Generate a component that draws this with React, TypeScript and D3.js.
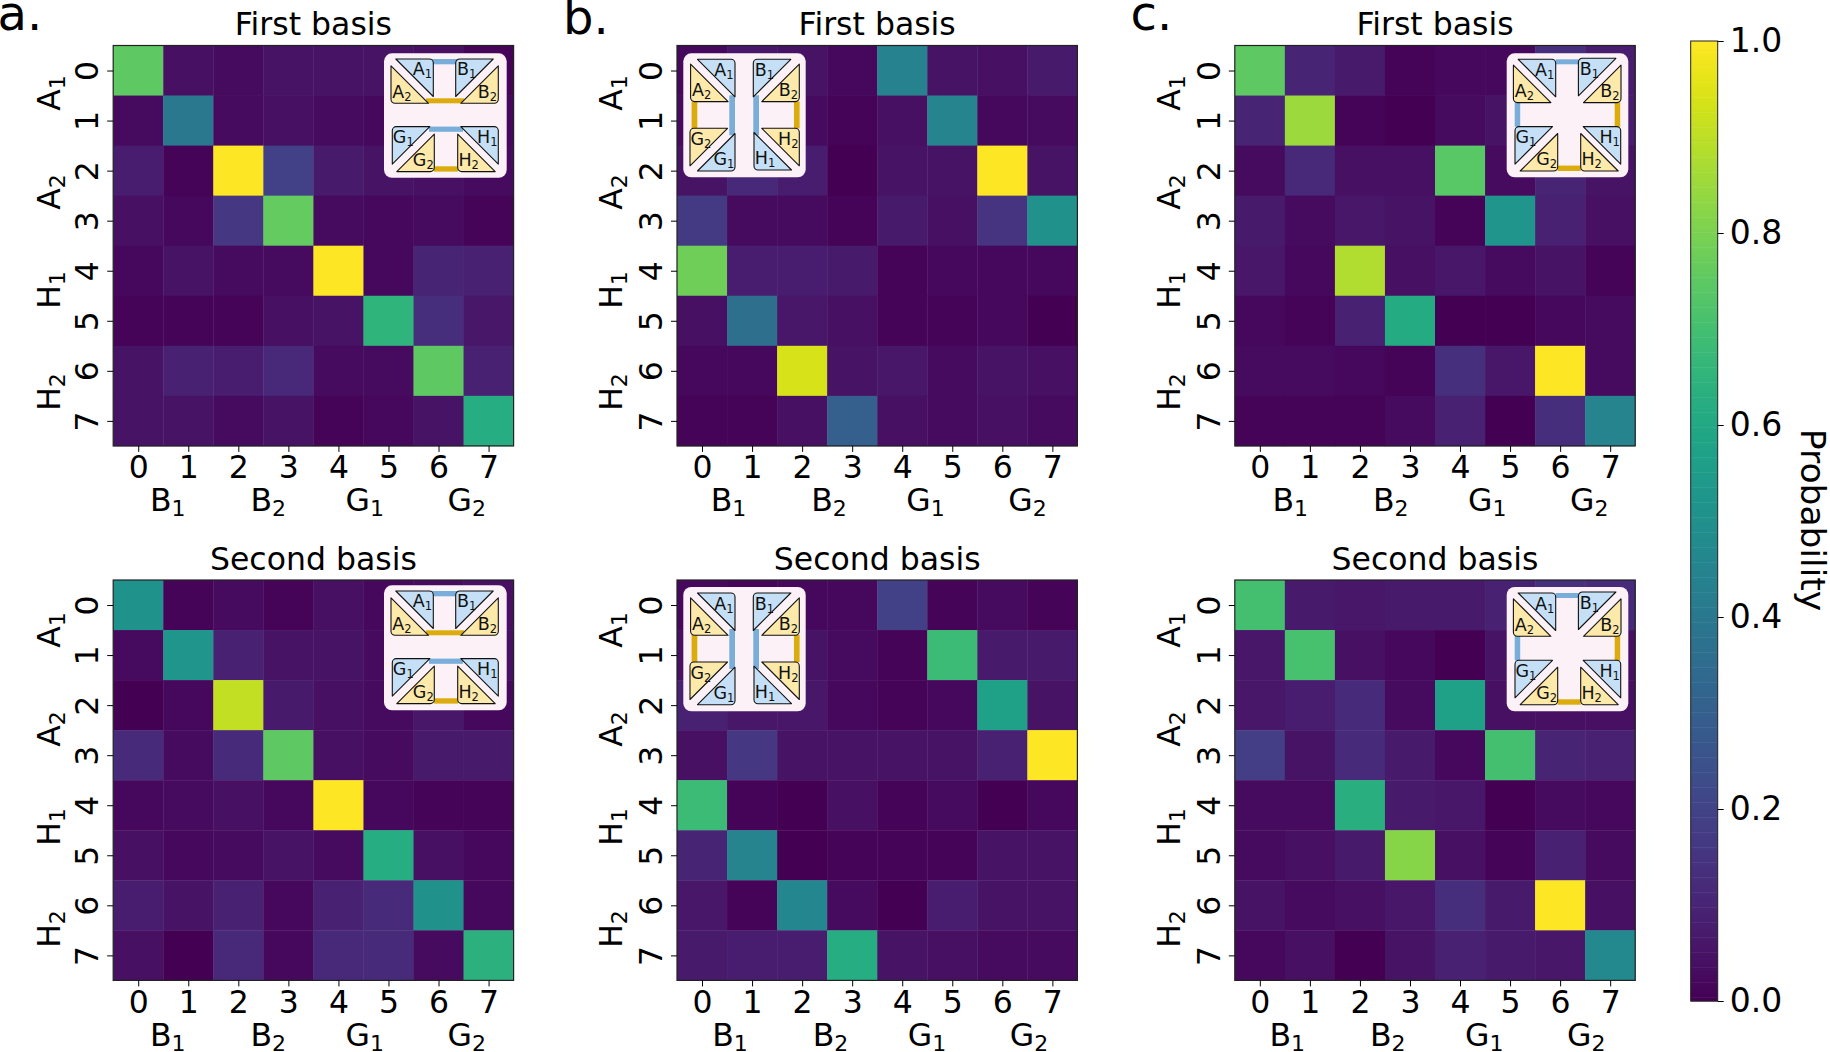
import React, { useEffect, useRef } from 'react';
import { select, scaleLinear, axisBottom, axisLeft, axisRight, interpolateViridis, path, range } from 'd3';

const WIDTH = 1830;
const HEIGHT = 1052;
const FONT = '"DejaVu Sans", sans-serif';

const ticks = [0, 1, 2, 3, 4, 5, 6, 7];
const colorTicks = [0, 0.2, 0.4, 0.6, 0.8, 1];

const xGroups = [['B', '1'], ['B', '2'], ['G', '1'], ['G', '2']];
const yGroups = [['A', '1'], ['A', '2'], ['H', '1'], ['H', '2']];

const aFirst = [
  [0.75, 0.04, 0.03, 0.05, 0.05, 0.05, 0.04, 0.01],
  [0.03, 0.40, 0.03, 0.04, 0.03, 0.02, 0.03, 0.02],
  [0.08, 0.01, 1.00, 0.19, 0.07, 0.05, 0.04, 0.03],
  [0.04, 0.02, 0.16, 0.76, 0.03, 0.02, 0.03, 0.01],
  [0.02, 0.05, 0.03, 0.03, 1.00, 0.02, 0.10, 0.09],
  [0.01, 0.01, 0.01, 0.04, 0.05, 0.65, 0.13, 0.06],
  [0.05, 0.09, 0.08, 0.11, 0.03, 0.03, 0.75, 0.09],
  [0.05, 0.05, 0.03, 0.05, 0.01, 0.02, 0.05, 0.62],
];
const aSecond = [
  [0.51, 0.01, 0.03, 0.01, 0.04, 0.02, 0.03, 0.04],
  [0.03, 0.52, 0.09, 0.05, 0.05, 0.03, 0.04, 0.04],
  [0.00, 0.02, 0.91, 0.07, 0.04, 0.03, 0.06, 0.02],
  [0.12, 0.03, 0.12, 0.75, 0.04, 0.03, 0.07, 0.07],
  [0.02, 0.03, 0.04, 0.02, 1.00, 0.02, 0.01, 0.01],
  [0.04, 0.02, 0.03, 0.05, 0.03, 0.62, 0.04, 0.02],
  [0.08, 0.05, 0.09, 0.02, 0.09, 0.12, 0.50, 0.02],
  [0.04, 0.00, 0.11, 0.02, 0.11, 0.12, 0.03, 0.64],
];
const bFirst = [
  [0.02, 0.06, 0.05, 0.02, 0.44, 0.05, 0.04, 0.07],
  [0.03, 0.05, 0.03, 0.01, 0.04, 0.45, 0.02, 0.03],
  [0.05, 0.11, 0.08, 0.00, 0.05, 0.05, 1.00, 0.05],
  [0.17, 0.03, 0.03, 0.01, 0.07, 0.04, 0.15, 0.50],
  [0.78, 0.08, 0.08, 0.07, 0.01, 0.02, 0.02, 0.02],
  [0.04, 0.36, 0.06, 0.04, 0.01, 0.01, 0.02, 0.00],
  [0.02, 0.02, 0.94, 0.05, 0.06, 0.03, 0.05, 0.04],
  [0.01, 0.01, 0.04, 0.30, 0.04, 0.03, 0.04, 0.03],
];
const bSecond = [
  [0.02, 0.01, 0.02, 0.02, 0.19, 0.01, 0.03, 0.01],
  [0.04, 0.04, 0.05, 0.03, 0.01, 0.68, 0.07, 0.07],
  [0.09, 0.06, 0.06, 0.02, 0.01, 0.02, 0.57, 0.05],
  [0.04, 0.16, 0.05, 0.05, 0.05, 0.05, 0.09, 1.00],
  [0.68, 0.01, 0.00, 0.04, 0.01, 0.03, 0.00, 0.02],
  [0.10, 0.45, 0.00, 0.01, 0.01, 0.01, 0.05, 0.05],
  [0.06, 0.01, 0.46, 0.03, 0.00, 0.08, 0.05, 0.05],
  [0.07, 0.08, 0.08, 0.62, 0.05, 0.04, 0.03, 0.03],
];
const cFirst = [
  [0.75, 0.10, 0.07, 0.01, 0.02, 0.02, 0.14, 0.08],
  [0.10, 0.85, 0.01, 0.00, 0.03, 0.05, 0.03, 0.08],
  [0.03, 0.11, 0.04, 0.04, 0.74, 0.03, 0.10, 0.05],
  [0.07, 0.03, 0.06, 0.05, 0.01, 0.52, 0.09, 0.04],
  [0.06, 0.02, 0.88, 0.04, 0.06, 0.03, 0.05, 0.01],
  [0.02, 0.01, 0.09, 0.61, 0.00, 0.00, 0.02, 0.03],
  [0.03, 0.03, 0.02, 0.01, 0.14, 0.06, 1.00, 0.03],
  [0.01, 0.01, 0.01, 0.03, 0.09, 0.00, 0.13, 0.45],
];
const cSecond = [
  [0.70, 0.07, 0.06, 0.07, 0.07, 0.09, 0.14, 0.12],
  [0.06, 0.71, 0.04, 0.02, 0.00, 0.05, 0.04, 0.04],
  [0.06, 0.08, 0.12, 0.03, 0.57, 0.04, 0.04, 0.04],
  [0.18, 0.05, 0.12, 0.07, 0.02, 0.70, 0.10, 0.09],
  [0.03, 0.03, 0.63, 0.07, 0.06, 0.00, 0.03, 0.02],
  [0.03, 0.04, 0.07, 0.82, 0.04, 0.01, 0.09, 0.03],
  [0.05, 0.03, 0.04, 0.06, 0.13, 0.07, 1.00, 0.04],
  [0.02, 0.04, 0.00, 0.05, 0.09, 0.07, 0.06, 0.47],
];

// inset graphs: [name, sub, corner x, corner y, dir x, dir y], bars are [color, x0, y0, x1, y1]
const BLUE = '#c5e0f6';
const YELLOW = '#fde9a9';
const BLUE_BAR = '#78aed9';
const YELLOW_BAR = '#dcab0c';

const insetA = {
  tris: [
    ['A', '1', 49.3, 5.7, -1, 1], ['A', '2', 7, 50, 1, -1], ['B', '1', 71.7, 5.7, 1, 1], ['B', '2', 114.3, 50, -1, -1],
    ['G', '1', 8.3, 73.3, 1, 1], ['G', '2', 50.3, 118.3, -1, -1], ['H', '1', 114.3, 73.3, -1, 1], ['H', '2', 73.7, 118.3, 1, -1],
  ],
  bars: [
    [BLUE_BAR, 48, 5.7, 73, 11], [YELLOW_BAR, 42, 45, 80, 50], [BLUE_BAR, 45, 73.3, 79, 78.5], [YELLOW_BAR, 50, 113, 74, 118.3],
  ],
};
const insetB = {
  tris: [
    ['A', '1', 51.7, 6, -1, 1], ['A', '2', 7.3, 48.3, 1, -1], ['B', '1', 70, 6, 1, 1], ['B', '2', 116, 48.3, -1, -1],
    ['G', '2', 6.7, 75, 1, 1], ['G', '1', 51.7, 117.7, -1, -1], ['H', '2', 116, 75, -1, 1], ['H', '1', 70.7, 116.7, 1, -1],
  ],
  bars: [
    [YELLOW_BAR, 8.3, 48, 14, 75], [BLUE_BAR, 46, 42, 51.7, 82], [BLUE_BAR, 70, 42, 75.7, 82], [YELLOW_BAR, 110.7, 48, 116.3, 75],
  ],
};
const insetC = {
  tris: [
    ['A', '1', 49, 6, -1, 1], ['A', '2', 6.7, 49.3, 1, -1], ['B', '1', 71.7, 5, 1, 1], ['B', '2', 114.3, 49.3, -1, -1],
    ['G', '1', 8.3, 73.3, 1, 1], ['G', '2', 51, 117.7, -1, -1], ['H', '1', 114, 73.3, -1, 1], ['H', '2', 74, 117.7, 1, -1],
  ],
  bars: [
    [BLUE_BAR, 49, 6, 72, 11], [YELLOW_BAR, 108, 49, 113.5, 73.5], [YELLOW_BAR, 51, 112.3, 74, 117.7], [BLUE_BAR, 8, 49, 13.5, 73.5],
  ],
};

const AXIS_SIZE = 400.4;
const LEG = 37.5;
const LABEL_SIZE = 31.5;
const SUB_SIZE = 22;

const panels = [
  { title: 'First basis', data: aFirst, x: 113.2, y: 45.5, inset: insetA, ix: 384, iy: 53.3, ih: 124.5, iw: 122.7, xoff: 0, yoff: 0, ylab: -53 },
  { title: 'Second basis', data: aSecond, x: 113.2, y: 580, inset: insetA, ix: 384, iy: 585.3, ih: 125, iw: 122.7, xoff: 0, yoff: 2.5, ylab: -53 },
  { title: 'First basis', data: bFirst, x: 677, y: 45.5, inset: insetB, ix: 683.3, iy: 53.3, ih: 124, iw: 122.4, xoff: -3, yoff: 0, ylab: -55 },
  { title: 'Second basis', data: bSecond, x: 677, y: 580, inset: insetB, ix: 683.3, iy: 587, ih: 124.3, iw: 122.4, xoff: -1.5, yoff: 2.5, ylab: -55 },
  { title: 'First basis', data: cFirst, x: 1234.8, y: 45.5, inset: insetC, ix: 1506.7, iy: 53.3, ih: 124, iw: 121.6, xoff: 1, yoff: 0, ylab: -55 },
  { title: 'Second basis', data: cSecond, x: 1234.8, y: 580, inset: insetC, ix: 1506.7, iy: 587, ih: 124.3, iw: 121.6, xoff: -2, yoff: 2.5, ylab: -55 },
];

const letters = [['a.', -2.5, 30], ['b.', 563, 34], ['c.', 1130.5, 30]];

const xLabelX = [54.5, 155, 251.5, 353.5];
const yLabelY = [47.5, 146.5, 244.5, 346.5];

function subText(sel, parts, size, subSize, drop) {
  sel.append('tspan').attr('font-size', size).text(parts[0]);
  sel.append('tspan').attr('font-size', subSize).attr('dy', drop).text(parts[1]);
}

function drawInset(g, inset, w, h) {
  g.append('rect').attr('width', w).attr('height', h).attr('rx', 8).attr('fill', '#fbf1f7');

  g.selectAll('rect.bar')
    .data(inset.bars)
    .join('rect')
    .attr('class', 'bar')
    .attr('x', d => d[1])
    .attr('y', d => d[2])
    .attr('width', d => d[3] - d[1])
    .attr('height', d => d[4] - d[2])
    .attr('fill', d => d[0]);

  inset.tris.forEach(([name, sub, cx, cy, dx, dy]) => {
    const p = path();
    p.moveTo(cx + dx * LEG, cy);
    p.arcTo(cx, cy, cx, cy + dy * LEG, 4);
    p.lineTo(cx, cy + dy * LEG);
    p.closePath();
    g.append('path')
      .attr('d', p.toString())
      .attr('fill', sub === '1' ? BLUE : YELLOW)
      .attr('stroke', '#111')
      .attr('stroke-width', 1.1)
      .attr('stroke-linejoin', 'round');
    const t = g.append('text')
      .attr('x', cx + dx * 11)
      .attr('y', cy + dy * 11 + 5.5)
      .attr('text-anchor', 'middle')
      .attr('fill', '#111');
    subText(t, [name, sub], 17.5, 11.5, 3);
  });
}

function drawPanel(svg, panel) {
  const x = scaleLinear().domain([-0.5, 7.5]).range([0, AXIS_SIZE]);
  const y = scaleLinear().domain([-0.5, 7.5]).range([0, AXIS_SIZE]);
  const g = svg.append('g').attr('transform', `translate(${panel.x},${panel.y})`);

  panel.data.forEach((row, r) => {
    g.append('g')
      .selectAll('rect')
      .data(row)
      .join('rect')
      .attr('x', (d, c) => x(c - 0.5))
      .attr('y', y(r - 0.5))
      .attr('width', x(0.5) - x(-0.5) + 0.4)
      .attr('height', y(0.5) - y(-0.5) + 0.4)
      .attr('fill', d => interpolateViridis(d));
  });

  g.append('rect')
    .attr('width', AXIS_SIZE)
    .attr('height', AXIS_SIZE)
    .attr('fill', 'none')
    .attr('stroke', '#222')
    .attr('stroke-width', 1.2);

  const xAxis = g.append('g')
    .attr('transform', `translate(0,${AXIS_SIZE})`)
    .call(axisBottom(x).tickValues(ticks).tickSize(6).tickPadding(4));
  xAxis.select('.domain').remove();
  xAxis.selectAll('text').attr('font-size', LABEL_SIZE).attr('font-family', FONT).attr('fill', '#000');

  const yAxis = g.append('g').call(axisLeft(y).tickValues(ticks).tickSize(6).tickPadding(5));
  yAxis.select('.domain').remove();
  yAxis.selectAll('text')
    .attr('font-size', LABEL_SIZE)
    .attr('font-family', FONT)
    .attr('fill', '#000')
    .attr('x', null)
    .attr('dy', null)
    .attr('text-anchor', 'middle')
    .attr('transform', 'translate(-15,0) rotate(-90)');

  g.append('text')
    .attr('x', AXIS_SIZE / 2)
    .attr('y', -10.5)
    .attr('text-anchor', 'middle')
    .attr('font-size', LABEL_SIZE)
    .text(panel.title);

  xGroups.forEach((parts, i) => {
    const t = g.append('text')
      .attr('x', xLabelX[i] + panel.xoff)
      .attr('y', AXIS_SIZE + 65.5)
      .attr('text-anchor', 'middle');
    subText(t, parts, LABEL_SIZE, SUB_SIZE, 5);
  });

  yGroups.forEach((parts, i) => {
    const t = g.append('text')
      .attr('text-anchor', 'middle')
      .attr('transform', `translate(${panel.ylab},${yLabelY[i] + panel.yoff}) rotate(-90)`);
    subText(t, parts, LABEL_SIZE, SUB_SIZE, 5);
  });

  const inset = svg.append('g').attr('transform', `translate(${panel.ix},${panel.iy})`);
  drawInset(inset, panel.inset, panel.iw, panel.ih);
}

function drawColorbar(svg) {
  const c = scaleLinear().domain([0, 1]).range([1001, 41]);
  const g = svg.append('g');
  g.selectAll('rect')
    .data(range(256))
    .join('rect')
    .attr('x', 1690.7)
    .attr('y', d => c((d + 1) / 256))
    .attr('width', 27)
    .attr('height', 960 / 256 + 0.5)
    .attr('fill', d => interpolateViridis(d / 255));

  svg.append('rect')
    .attr('x', 1690.7)
    .attr('y', 41)
    .attr('width', 27)
    .attr('height', 960)
    .attr('fill', 'none')
    .attr('stroke', '#222')
    .attr('stroke-width', 1);

  const axis = svg.append('g')
    .attr('transform', 'translate(1717.7,0)')
    .call(axisRight(c).tickValues(colorTicks).tickSize(6).tickPadding(6).tickFormat(d => d.toFixed(1)));
  axis.select('.domain').remove();
  axis.selectAll('text').attr('font-size', 33).attr('font-family', FONT).attr('fill', '#000');

  svg.append('text')
    .attr('transform', 'translate(1801,520) rotate(90)')
    .attr('text-anchor', 'middle')
    .attr('font-size', 34.5)
    .text('Probability');
}

export default function App() {
  const ref = useRef(null);

  useEffect(() => {
    const svg = select(ref.current);
    svg.selectAll('*').remove();
    panels.forEach(p => drawPanel(svg, p));
    drawColorbar(svg);
    letters.forEach(([t, x, y]) => {
      svg.append('text').attr('x', x).attr('y', y).attr('font-size', 48).text(t);
    });
  }, []);

  return (
    <svg
      ref={ref}
      width={WIDTH}
      height={HEIGHT}
      fontFamily={FONT}
      style={{ position: 'absolute', left: 0, top: 0, background: '#fff' }}
    />
  );
}
